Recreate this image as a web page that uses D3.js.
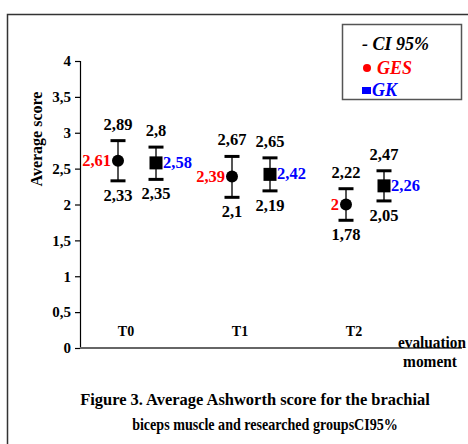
<!DOCTYPE html>
<html><head><meta charset="utf-8">
<script src="https://cdn.jsdelivr.net/npm/d3@7/dist/d3.min.js"></script>
<style>body{margin:0;background:#fff}svg{display:block}svg text{font-family:"Liberation Serif","DejaVu Serif",serif !important;font-weight:bold}</style>
</head><body>
<script>
const categories = ["T0", "T1", "T2"];
const gesMean = [2.61, 2.39, 2.00];
const gesUpper = [2.89, 2.67, 2.22];
const gesLower = [2.33, 2.10, 1.78];
const gkMean = [2.58, 2.42, 2.26];
const gkUpper = [2.80, 2.65, 2.47];
const gkLower = [2.35, 2.19, 2.05];
const yTicks = [0, 0.5, 1, 1.5, 2, 2.5, 3, 3.5, 4];

const W = 468, H = 444;
const svg = d3.select("body").append("svg").attr("width", W).attr("height", H)
  .attr("font-family", "Liberation Serif");
const fmt = v => d3.format("~")(+v.toFixed(2)).replace(".", ",");

// place a text at (tx,ty) with optional rotation, horizontally condensed to max width w
function fitText(tx, ty, rot, w, anchor, size, str) {
  const t = svg.append("text").attr("text-anchor", anchor).attr("font-size", size).text(str);
  const len = t.node().getComputedTextLength();
  const k = len > w ? w / len : 1;
  t.attr("transform", `translate(${tx},${ty}) rotate(${rot}) scale(${k},1)`);
  return t;
}

// outer frame
svg.append("rect").attr("x", 7.5).attr("y", 14.5).attr("width", 520).attr("height", 520)
  .attr("fill", "none").attr("stroke", "#333").attr("stroke-width", 1.5);

const y = d3.scaleLinear().domain([0, 4]).range([348, 61]);
const x = d3.scaleBand().domain(categories).range([80, 422]);
const cx = c => x(c) + x.bandwidth() / 2;
const off = 19;

// y axis
const yAxis = svg.append("g").attr("transform", "translate(80,0)")
  .call(d3.axisLeft(y).tickValues(yTicks).tickSize(5).tickFormat(d => String(d).replace(".", ",")));
yAxis.attr("font-family", "Liberation Serif");
yAxis.select(".domain").attr("stroke", "#000").attr("stroke-width", 1.2);
yAxis.selectAll(".tick line").attr("stroke", "#000").attr("stroke-width", 1.2);
yAxis.selectAll(".tick text").attr("font-size", 15).attr("fill", "#000").attr("x", -9);

// x axis line
svg.append("line").attr("x1", 80).attr("x2", 462).attr("y1", y(0)).attr("y2", y(0))
  .attr("stroke", "#666").attr("stroke-width", 2);

// category labels
svg.selectAll(".cat").data(categories).enter().append("text")
  .attr("x", d => cx(d) - 11).attr("y", 336).attr("text-anchor", "middle")
  .attr("font-size", 14).text(d => d);

// axis titles
fitText(42, 139, -90, 98, "middle", 16, "Average score");
fitText(466, 348, 0, 68, "end", 16, "evaluation");
fitText(457, 367, 0, 54, "end", 16, "moment");

// series
const series = [
  {mean: gesMean, up: gesUpper, lo: gesLower, dx: -off, color: "red", shape: "circle", side: "left"},
  {mean: gkMean, up: gkUpper, lo: gkLower, dx: off, color: "blue", shape: "square", side: "right"}
];
series.forEach(s => {
  const g = svg.append("g");
  categories.forEach((c, i) => {
    const px = cx(c) + s.dx;
    g.append("line").attr("x1", px).attr("x2", px).attr("y1", y(s.up[i])).attr("y2", y(s.lo[i]))
      .attr("stroke", "#555").attr("stroke-width", 2);
    [s.up[i], s.lo[i]].forEach(v => {
      g.append("line").attr("x1", px - 7.5).attr("x2", px + 7.5).attr("y1", y(v)).attr("y2", y(v))
        .attr("stroke", "#000").attr("stroke-width", 3);
    });
    if (s.shape === "circle") {
      g.append("circle").attr("cx", px).attr("cy", y(s.mean[i])).attr("r", 6).attr("fill", "#000");
    } else {
      g.append("rect").attr("x", px - 6.5).attr("y", y(s.mean[i]) - 6.5).attr("width", 13).attr("height", 13).attr("fill", "#000");
    }
    g.append("text").attr("x", px).attr("y", y(s.up[i]) - 11).attr("text-anchor", "middle")
      .attr("font-size", 16.5).attr("fill", "#000").text(fmt(s.up[i]));
    g.append("text").attr("x", px).attr("y", y(s.lo[i]) + 20).attr("text-anchor", "middle")
      .attr("font-size", 16.5).attr("fill", "#000").text(fmt(s.lo[i]));
    g.append("text").attr("x", s.side === "left" ? px - 7 : px + 7).attr("y", y(s.mean[i]) + 5)
      .attr("text-anchor", s.side === "left" ? "end" : "start")
      .attr("font-size", 16.5).attr("fill", s.color).text(fmt(s.mean[i]));
  });
});

// legend
const defs = svg.append("defs");
defs.append("clipPath").attr("id", "legclip").append("rect").attr("x", 342).attr("y", 24).attr("width", 120).attr("height", 75);
svg.append("rect").attr("x", 342.5).attr("y", 24.5).attr("width", 119).attr("height", 75)
  .attr("fill", "#fff").attr("stroke", "#555").attr("stroke-width", 1.5);
const leg = svg.append("g").attr("clip-path", "url(#legclip)");
leg.append("text").attr("x", 362).attr("y", 50).attr("font-size", 18).attr("font-style", "italic").attr("fill", "#000").text("- CI 95%");
leg.append("circle").attr("cx", 367).attr("cy", 68).attr("r", 4).attr("fill", "red");
leg.append("text").attr("x", 377).attr("y", 74).attr("font-size", 18).attr("font-style", "italic").attr("fill", "red").text("GES");
leg.append("rect").attr("x", 362).attr("y", 87).attr("width", 9).attr("height", 7).attr("fill", "blue");
leg.append("text").attr("x", 372).attr("y", 96).attr("font-size", 18).attr("font-style", "italic").attr("fill", "blue").text("GK");

// caption
fitText(255, 405, 0, 350, "middle", 17, "Figure 3. Average Ashworth  score for the brachial");
fitText(265, 430, 0, 266, "middle", 17, "biceps muscle and researched groupsCI95%");
</script>
</body></html>
